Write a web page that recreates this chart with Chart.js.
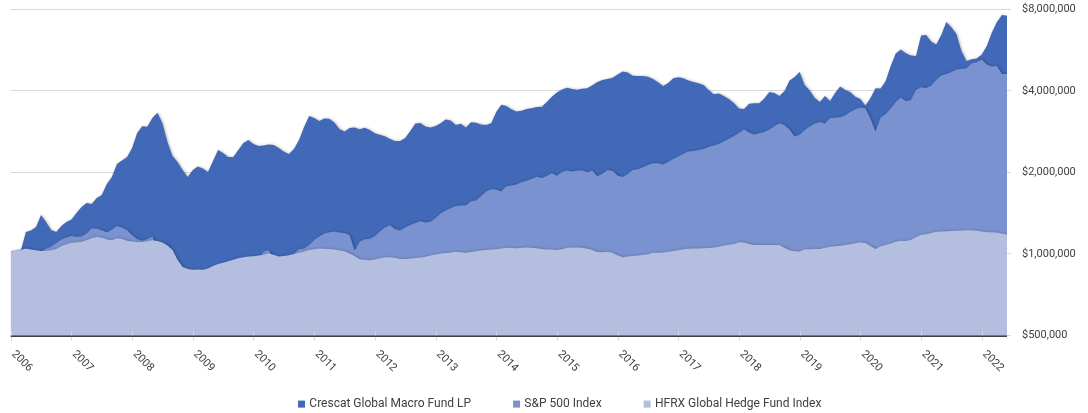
<!DOCTYPE html>
<html>
<head>
<meta charset="utf-8">
<script src="https://cdn.jsdelivr.net/npm/chart.js@4.4.1/dist/chart.umd.min.js"></script>
<style>
html,body{margin:0;padding:0;background:#ffffff;}
#wrap{width:1088px;height:413px;position:relative;}
</style>
</head>
<body>
<div id="wrap"><canvas id="c" width="1088" height="413"></canvas></div>
<script>
// ---- categories (monthly, Jan 2006 .. Jun 2022) ----
const monthNames = ['Jan','Feb','Mar','Apr','May','Jun','Jul','Aug','Sep','Oct','Nov','Dec'];
const years = [2006,2007,2008,2009,2010,2011,2012,2013,2014,2015,2016,2017,2018,2019,2020,2021,2022];
const monthsInLastYear = 6;
const yearTickLabels = ['2006','2007','2008','2009','2010','2011','2012','2013','2014','2015','2016','2017','2018','2019','2020','2021','2022'];
// y-axis ticks, in $ thousands
const yTickValues = [500, 1000, 2000, 4000, 8000];

// ---- series values, growth of $1M, in $ thousands ----
const crescat = [
  1019,1025,1030,1205,1220,1257,1392,1312,1226,1205,1268,1312,
  1340,1416,1490,1542,1529,1609,1650,1812,1923,2148,2213,2280,
  2461,2795,2959,2950,3176,3322,3044,2590,2299,2185,2041,1923,
  2041,2103,2067,2007,2204,2419,2358,2280,2280,2419,2568,2634,
  2546,2503,2514,2535,2525,2461,2389,2338,2440,2634,2942,3230,
  3176,3096,3163,3155,3057,2892,2831,2917,2927,2885,2922,2868,
  2791,2753,2718,2657,2612,2612,2680,2845,3031,3044,2952,2928,
  2965,3036,3133,3109,2990,3025,2932,3062,3049,3003,2990,3036,
  3342,3553,3520,3422,3353,3381,3428,3451,3487,3493,3638,3806,
  3944,4043,4105,4060,4036,4074,4087,4197,4312,4387,4424,4473,
  4596,4715,4675,4546,4538,4538,4511,4424,4300,4168,4276,4450,
  4488,4450,4364,4312,4268,4206,4029,3884,3914,3829,3732,3608,
  3443,3429,3583,3598,3601,3747,3961,3927,3829,3995,4364,4500,
  4695,4200,4009,3764,3638,3829,3667,3927,4150,4029,3961,3806,
  3732,3532,3764,4087,4080,4349,4940,5490,5684,5503,5401,5378,
  6398,6430,6084,5932,6430,7182,6871,6485,5612,5155,5230,5261,
  5447,5856,6568,7182,7615,7568
];
const sp500 = [
  1019,1022,1033,1045,1016,1017,1023,1045,1065,1098,1131,1150,
  1165,1158,1159,1190,1242,1242,1224,1202,1228,1268,1252,1226,
  1175,1136,1118,1136,1160,1069,1060,1068,979,815,756,764,
  700,625,680,745,787,788,848,878,911,894,948,966,
  931,960,1018,1034,951,901,965,921,1003,1041,1047,1079,
  1126,1160,1190,1202,1209,1200,1195,1175,1030,1110,1133,1139,
  1162,1210,1252,1275,1236,1221,1252,1279,1301,1320,1306,1315,
  1357,1411,1447,1478,1503,1510,1510,1561,1574,1634,1700,1732,
  1729,1700,1774,1790,1805,1839,1862,1891,1927,1907,1940,1985,
  1945,2007,2033,2015,2033,2033,2002,2027,1935,1976,2041,2029,
  1948,1923,1973,2041,2053,2089,2130,2161,2160,2139,2185,2241,
  2289,2343,2387,2398,2419,2438,2482,2515,2544,2607,2665,2723,
  2795,2880,2807,2758,2788,2819,2882,2962,3036,2990,2877,2714,
  2753,2868,2952,3028,3070,3031,3167,3186,3199,3243,3342,3420,
  3473,3450,3162,2830,3186,3281,3444,3638,3776,3672,3700,4029,
  4123,4099,4175,4387,4560,4620,4695,4793,4826,4850,5060,5105,
  5222,5004,4920,4940,4616,4616
];
const hfrx = [
  1019,1028,1034,1047,1038,1031,1025,1027,1032,1043,1068,1085,
  1100,1104,1109,1123,1142,1155,1151,1130,1124,1143,1136,1118,
  1112,1107,1107,1113,1124,1116,1102,1074,1034,950,895,880,
  874,877,874,884,903,918,928,939,952,964,972,978,
  981,986,993,1005,994,979,983,990,1000,1011,1022,1034,
  1041,1047,1046,1043,1039,1032,1023,1004,983,956,952,947,
  954,964,972,972,968,958,959,962,966,970,977,986,
  995,1003,1008,1013,1018,1015,1011,1017,1023,1030,1035,1038,
  1040,1047,1054,1052,1049,1055,1057,1055,1050,1043,1039,1038,
  1035,1041,1054,1056,1057,1054,1046,1034,1017,1014,1018,1011,
  989,972,978,983,987,991,998,1011,1011,1012,1018,1025,
  1032,1041,1046,1047,1048,1049,1052,1056,1063,1074,1081,1088,
  1104,1102,1088,1079,1079,1079,1079,1079,1079,1055,1033,1024,
  1022,1040,1041,1042,1044,1055,1064,1068,1073,1079,1086,1095,
  1104,1098,1070,1043,1067,1079,1093,1109,1119,1117,1126,1155,
  1177,1182,1196,1208,1211,1214,1216,1217,1220,1224,1223,1217,
  1211,1202,1202,1200,1190,1180
];
const seriesNames = ['Crescat Global Macro Fund LP', 'S&P 500 Index', 'HFRX Global Hedge Fund Index'];
const seriesColors = ['#4169B7', '#7A92CF', '#B4BEDF'];

// build category labels
const labels = [];
years.forEach((y, yi) => {
  const n = (yi === years.length - 1) ? monthsInLastYear : 12;
  for (let m = 0; m < n; m++) labels.push(monthNames[m] + ' ' + y);
});

const textColor = '#404040';

const shadowPlugin = {
  id: 'areaShadow',
  beforeDatasetsDraw(chart) {
    const c = chart.ctx;
    c.save();
    c.shadowColor = 'rgba(0,0,0,0.28)';
    c.shadowBlur = 3;
    c.shadowOffsetX = 1;
    c.shadowOffsetY = 0;
  },
  afterDatasetsDraw(chart) {
    chart.ctx.restore();
  }
};

const overlayPlugin = {
  id: 'overlay',
  afterDraw(chart) {
    const c = chart.ctx;
    const xs = chart.scales.x;
    const area = chart.chartArea;
    c.save();
    // year tick marks
    c.strokeStyle = '#d9d9d9';
    c.lineWidth = 1;
    yearTickLabels.forEach((lab, k) => {
      const px = Math.round(xs.getPixelForValue(k * 12)) + 0.5;
      c.beginPath();
      c.moveTo(px, area.bottom - 4);
      c.lineTo(px, area.bottom + 5);
      c.stroke();
    });
    // x axis line
    c.strokeStyle = '#404040';
    c.lineWidth = 1.5;
    c.beginPath();
    c.moveTo(area.left, area.bottom + 0.8);
    c.lineTo(area.right, area.bottom + 0.8);
    c.stroke();
    // rotated year labels
    c.fillStyle = textColor;
    c.font = '11px Roboto';
    c.textAlign = 'left';
    c.textBaseline = 'middle';
    yearTickLabels.forEach((lab, k) => {
      const px = xs.getPixelForValue(k * 12);
      c.save();
      c.translate(px + 2.5, area.bottom + 17);
      c.rotate(Math.PI / 4);
      c.fillText(lab, 0, 0);
      c.restore();
    });
    // legend
    c.font = '12px Roboto';
    const box = 7, boxToText = 11.3, gap = 42;
    const widths = seriesNames.map(s => c.measureText(s).width);
    const total = widths.reduce((a, w) => a + boxToText + w, 0) + gap * (seriesNames.length - 1);
    let x = 559.7 - total / 2;
    seriesNames.forEach((s, i) => {
      c.fillStyle = seriesColors[i];
      c.fillRect(x, 400.6, box, box);
      c.fillStyle = textColor;
      c.fillText(s, x + boxToText, 404.3);
      x += boxToText + widths[i] + gap;
    });
    c.restore();
  }
};

function areaDataset(i, data, order) {
  return {
    label: seriesNames[i],
    data: data,
    backgroundColor: seriesColors[i],
    borderColor: 'rgba(0,0,0,0)',
    borderWidth: 0,
    fill: 'start',
    pointRadius: 0,
    pointHoverRadius: 0,
    tension: 0,
    order: order,
    clip: 6
  };
}

new Chart(document.getElementById('c').getContext('2d'), {
  type: 'line',
  data: {
    labels: labels,
    datasets: [
      areaDataset(0, crescat, 3),
      areaDataset(1, sp500, 2),
      areaDataset(2, hfrx, 1)
    ]
  },
  options: {
    responsive: false,
    animation: false,
    devicePixelRatio: 1,
    layout: { padding: { left: 10.7, top: 9.3, right: 0, bottom: 0 } },
    plugins: { legend: { display: false }, tooltip: { enabled: false } },
    scales: {
      x: {
        type: 'category',
        offset: false,
        ticks: { display: false },
        grid: { display: false },
        border: { display: false },
        afterFit(s) { s.height = 77.5; s.paddingLeft = 0; s.paddingRight = 0; }
      },
      y: {
        type: 'logarithmic',
        position: 'right',
        min: 500,
        max: 8000,
        afterBuildTicks(s) { s.ticks = yTickValues.map(v => ({ value: v })); },
        ticks: {
          callback: v => '$' + (v * 1000).toLocaleString('en-US'),
          font: { family: 'Roboto', size: 11 },
          color: textColor,
          padding: 11
        },
        grid: { color: '#d9d9d9', lineWidth: 1, drawTicks: true, tickLength: 4, tickColor: '#d9d9d9' },
        border: { display: false },
        afterFit(s) { s.width = 81; s.paddingTop = 0; s.paddingBottom = 0; }
      }
    }
  },
  plugins: [shadowPlugin, overlayPlugin]
});
</script>
</body>
</html>
